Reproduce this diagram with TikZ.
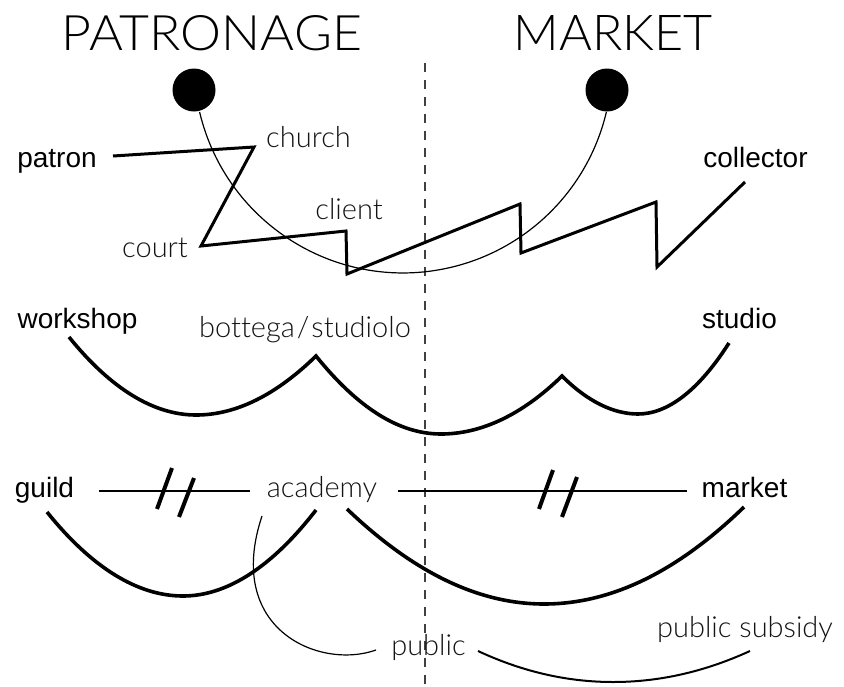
\documentclass[tikz,border=0pt]{standalone}
\usepackage{fontspec}
\usepackage{graphicx}
\setmainfont{Liberation Sans}
\IfFontExistsTF{Lato Light}{\newfontfamily\litefont[Ligatures=NoCommon]{Lato Light}}{%
  \IfFontExistsTF{Open Sans Light}{\newfontfamily\litefont[Ligatures=NoCommon]{Open Sans Light}}{%
    \IfFontExistsTF{Fira Sans Light}{\newfontfamily\litefont[Ligatures=NoCommon]{Fira Sans Light}}{%
      \newfontfamily\litefont{Liberation Sans}}}}
\begin{document}
\begin{tikzpicture}[x=1pt,y=-1pt,
  lbl/.style={font=\fontsize{28}{30}\selectfont, anchor=base, inner sep=0pt, text=black},
  lite/.style={font=\litefont\fontsize{29}{31}\selectfont, anchor=base, inner sep=0pt, text=black!92},
  ttl/.style={font=\litefont\fontsize{48}{50}\selectfont, anchor=base, inner sep=0pt, text=black},
  dot/.style={circle, fill=black, minimum size=43pt, inner sep=0pt},
  zig/.style={line width=3pt, line join=miter},
  bow/.style={line width=3.6pt},
  fine/.style={line width=1.2pt},
  hline/.style={line width=1.6pt},
  tick/.style={line width=4pt},
  divider/.style={line width=1.8pt, black!75, dash pattern=on 9pt off 8pt}
]
\useasboundingbox (0,0) rectangle (844,686);

% titles
\node[ttl] (tpat) at (212,50) {\resizebox{300pt}{35pt}{PATRONAGE}};
\node[ttl] (tmar) at (613.5,50) {\resizebox{199pt}{35pt}{MARKET}};

% divider
\coordinate (d0) at (425,63);
\coordinate (d1) at (425,686);
\draw[divider] (d0) -- (d1);

% dots and thin arc
\node[dot] (pdot) at (194,90) {};
\node[dot] (mdot) at (607,90) {};
\coordinate (arcL) at (199.6,112);
\draw[fine] (arcL) arc[start angle=166.7, end angle=13.3, radius=209];

% labels, row 1
\node[lbl]  (patron)    at (57,167)    {patron};
\node[lite] (church)    at (308.5,147) {church};
\node[lite] (client)    at (349,219)   {client};
\node[lite] (court)     at (155,257)   {court};
\node[lbl]  (collector) at (755.5,167) {collector};

% zigzag
\coordinate (z0) at (113,156);
\coordinate (z1) at (254,147);
\coordinate (z2) at (201,246);
\coordinate (z3) at (346,231);
\coordinate (z4) at (347,274);
\coordinate (z5) at (520,204);
\coordinate (z6) at (521,253);
\coordinate (z7) at (656,202);
\coordinate (z8) at (657,267);
\coordinate (z9) at (745,182);
\draw[zig] (z0) -- (z1) -- (z2) -- (z3) -- (z4) -- (z5) -- (z6) -- (z7) -- (z8) -- (z9);

% row 2
\node[lbl]  (workshop) at (77.5,328) {workshop};
\node[lite] (bottega)  at (305,337)  {bottega\kern2pt/\kern2pt studiolo};
\node[lbl]  (studio)   at (739.5,328) {studio};

\coordinate (w0) at (69,337);
\coordinate (w1) at (196,415);
\coordinate (w2) at (316,356);
\coordinate (w3) at (441,434);
\coordinate (w4) at (562,376);
\coordinate (w5) at (638,414);
\coordinate (w6) at (729,343);
\draw[bow] (w0) .. controls (111,389) and (154,415) .. (w1)
  .. controls (236,415) and (276,395) .. (w2)
  .. controls (358,408) and (399,434) .. (w3)
  .. controls (481,434) and (522,415) .. (w4)
  .. controls (587,401) and (613,414) .. (w5)
  .. controls (668,414) and (699,390) .. (w6);

% row 3
\node[lbl]  (guild)   at (44.5,497) {guild};
\node[lite] (academy) at (322,497)  {academy};
\node[lbl]  (market)  at (744.5,497) {market};

\coordinate (h0) at (99,491);
\coordinate (h1) at (250,491);
\coordinate (h2) at (398,491);
\coordinate (h3) at (687,491);
\draw[hline] (h0) -- (h1);
\draw[hline] (h2) -- (h3);

\draw[tick] (172,468) -- (157,509);
\draw[tick] (194,478) -- (179,517);
\draw[tick] (553,470) -- (539,509);
\draw[tick] (577,477) -- (562,517);

\coordinate (g0) at (47,512);
\coordinate (g1) at (183,596);
\coordinate (g2) at (316,510);
\draw[bow] (g0) .. controls (92,568) and (138,596) .. (g1)
  .. controls (227,596) and (272,567) .. (g2);

\coordinate (m0) at (347,509);
\coordinate (m1) at (544,604);
\coordinate (m2) at (744,507);
\draw[bow] (m0) .. controls (413,572) and (478,604) .. (m1)
  .. controls (611,604) and (677,572) .. (m2);

% row 4
\node[lite] (public)  at (428.5,655) {public};
\node[lite] (subsidy) at (745,637)   {public subsidy};

\coordinate (a0) at (262,516);
\coordinate (p0) at (376,650);
\draw[fine] (a0) .. controls (224,630) and (320,670) .. (p0);

\coordinate (s0) at (478,651);
\coordinate (s1) at (613,682);
\coordinate (s2) at (750,651);
\draw[line width=2pt] (s0) .. controls (523,672) and (568,682) .. (s1)
  .. controls (659,682) and (704,672) .. (s2);
\end{tikzpicture}
\end{document}
